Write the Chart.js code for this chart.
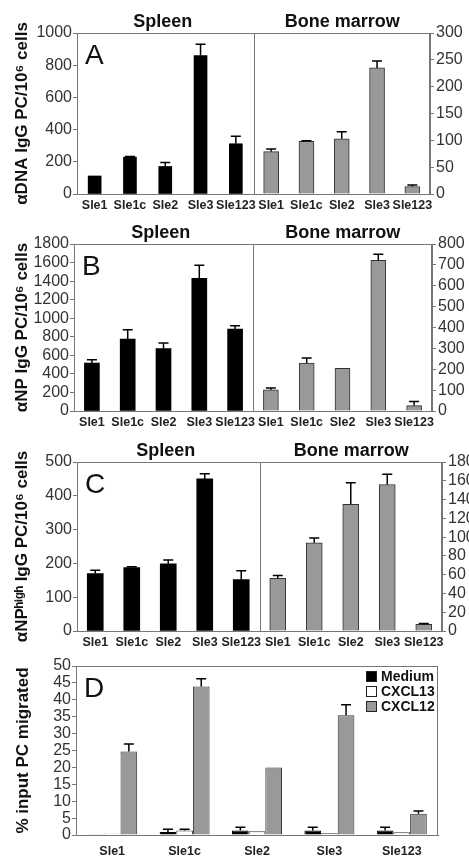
<!DOCTYPE html>
<html>
<head>
<meta charset="utf-8">
<script src="https://cdn.jsdelivr.net/npm/chart.js@4.4.1/dist/chart.umd.min.js"></script>
<style>
html, body { margin: 0; padding: 0; background: #fff; overflow: hidden; }
#wrap { position: relative; width: 469px; height: 857px; }
.panel { position: absolute; left: 0; width: 469px; }
</style>
</head>
<body>
<div id="wrap">
  <div class="panel" style="top:0;height:216px"><canvas id="panelA"></canvas></div>
  <div class="panel" style="top:216px;height:218px"><canvas id="panelB"></canvas></div>
  <div class="panel" style="top:434px;height:219px"><canvas id="panelC"></canvas></div>
  <div class="panel" style="top:653px;height:204px"><canvas id="panelD"></canvas></div>
</div>
<script>
// categorias
var linhagens = ['Sle1', 'Sle1c', 'Sle2', 'Sle3', 'Sle123'];
var vazio = [null, null, null, null, null];

// A - aDNA IgG PC / 10^6 cells
var dnaBaco = [112, 229, 171, 860, 312];
var dnaBacoErro = [0, 4, 25, 70, 46];
var dnaMedula = [79, 98, 103, 235, 14];
var dnaMedulaErro = [5, 1, 13, 13, 3];

// B - aNP IgG PC / 10^6 cells
var npBaco = [517, 776, 672, 1430, 884];
var npBacoErro = [36, 100, 60, 140, 36];
var npMedula = [102, 230, 204, 722, 26];
var npMedulaErro = [8, 24, 0, 29, 19];

// C - aNP high IgG PC / 10^6 cells
var npAltoBaco = [170, 188, 199, 450, 152];
var npAltoBacoErro = [10, 2, 11, 15, 26];
var npAltoMedula = [56, 94, 135, 156, 7];
var npAltoMedulaErro = [3, 5, 23, 11, 1];

// D - % input PC migrated
var meio = [0.1, 0.9, 1.3, 1.3, 1.3];
var meioErro = [0, 0.8, 1.0, 1.0, 1.0];
var cxcl13 = [0.4, 1.3, 1.1, 0.5, 0.8];
var cxcl13Erro = [0, 0.4, 0, 0, 0];
var cxcl12 = [24.7, 43.9, 20.0, 35.4, 6.3];
var cxcl12Erro = [2.2, 2.3, 0, 3.1, 0.8];

var CINZA = '#999999';
var EIXO = '#777777';
Chart.defaults.font.family = '"Liberation Sans", Arial, sans-serif';
Chart.defaults.color = '#333';

const barrasErro = {
    id: 'barrasErro',
    afterDatasetsDraw(chart) {
        const ctx = chart.ctx;
        chart.data.datasets.forEach((ds, i) => {
            if (!ds.erros) return;
            const meta = chart.getDatasetMeta(i);
            const escala = chart.scales[meta.yAxisID];
            meta.data.forEach((barra, j) => {
                const v = ds.data[j], e = ds.erros[j];
                if (v == null || !e) return;
                const yTopo = escala.getPixelForValue(v + e);
                ctx.save();
                ctx.strokeStyle = '#000';
                ctx.lineWidth = 1.5;
                ctx.beginPath();
                ctx.moveTo(barra.x, barra.y);
                ctx.lineTo(barra.x, yTopo);
                ctx.moveTo(barra.x - 5, yTopo);
                ctx.lineTo(barra.x + 5, yTopo);
                ctx.stroke();
                ctx.restore();
            });
        });
    }
};

const decoracao = {
    id: 'decoracao',
    afterDraw(chart, args, opts) {
        const ctx = chart.ctx;
        const a = chart.chartArea;
        ctx.save();
        ctx.strokeStyle = EIXO;
        ctx.lineWidth = 1;
        ctx.strokeRect(a.left + 0.5, a.top + 0.5, a.right - a.left - 1, a.bottom - a.top);

        if (opts.metades) {
            const x = chart.scales.x;
            const meio = Math.round((x.getPixelForValue(4) + x.getPixelForValue(5)) / 2) + 0.5;
            ctx.beginPath();
            ctx.moveTo(meio, a.top);
            ctx.lineTo(meio, a.bottom);
            ctx.stroke();
            ctx.fillStyle = '#111';
            ctx.font = 'bold 18px "Liberation Sans", Arial, sans-serif';
            ctx.textAlign = 'center';
            ctx.textBaseline = 'alphabetic';
            ctx.fillText(opts.metades[0], (a.left + meio) / 2 - 3, a.top - 6);
            ctx.fillText(opts.metades[1], (meio + a.right) / 2, a.top - 6);
        }

        ctx.fillStyle = '#111';
        ctx.font = '28px "Liberation Sans", Arial, sans-serif';
        ctx.textAlign = 'left';
        ctx.textBaseline = 'alphabetic';
        ctx.fillText(opts.letra, a.left + 8, a.top + 31);

        if (opts.legenda) {
            ctx.font = 'bold 14px "Liberation Sans", Arial, sans-serif';
            ctx.textBaseline = 'middle';
            chart.data.datasets.forEach((ds, i) => {
                const y = a.top + 11 + i * 15;
                const x = a.left + 290;
                ctx.fillStyle = ds.backgroundColor;
                ctx.fillRect(x, y - 6, 11, 11);
                ctx.strokeStyle = '#222';
                ctx.strokeRect(x + 0.5, y - 5.5, 10, 10);
                ctx.fillStyle = '#111';
                ctx.fillText(ds.label, x + 15, y);
            });
        }
        ctx.restore();
    }
};

function eixoY(pos, max, passo, largura, titulo, tituloPad, tamanho) {
    const eixo = {
        position: pos,
        min: 0,
        max: max,
        ticks: {
            stepSize: passo,
            autoSkip: false,
            color: '#333',
            font: { size: tamanho || 16 },
            padding: pos === 'left' ? 1 : 2,
            callback: function (valor) { return String(valor); }
        },
        grid: { drawOnChartArea: false, tickLength: 4, color: EIXO },
        border: { color: EIXO },
        afterFit: function (s) { s.width = largura; }
    };
    if (titulo) {
        eixo.title = {
            display: true,
            text: titulo,
            color: '#111',
            font: { size: 17, weight: 'bold' },
            padding: { top: tituloPad, bottom: 0 }
        };
    }
    return eixo;
}

function eixoX(altura, pad) {
    return {
        grid: { display: false, drawTicks: false },
        border: { color: EIXO },
        ticks: {
            autoSkip: false,
            maxRotation: 0,
            minRotation: 0,
            padding: pad,
            color: '#222',
            font: { size: 12.5, weight: 'bold' }
        },
        afterFit: function (s) { s.height = altura; }
    };
}

function plotarMetades(id, letra, titulo, baco, bacoErro, medula, medulaErro, eixos, geo) {
    new Chart(document.getElementById(id), {
        type: 'bar',
        data: {
            labels: linhagens.concat(linhagens),
            datasets: [
                {
                    label: 'Spleen',
                    data: baco.concat(vazio),
                    erros: bacoErro.concat(vazio),
                    yAxisID: 'y',
                    backgroundColor: '#000',
                    barThickness: geo.barraBaco,
                    grouped: false
                },
                {
                    label: 'Bone marrow',
                    data: vazio.concat(medula),
                    erros: vazio.concat(medulaErro),
                    yAxisID: 'y1',
                    backgroundColor: CINZA,
                    borderColor: '#333',
                    borderWidth: 1,
                    barThickness: geo.barraMedula,
                    grouped: false
                }
            ]
        },
        options: {
            responsive: true,
            maintainAspectRatio: false,
            animation: false,
            layout: { padding: { top: geo.topo, left: 0, right: 0, bottom: 0 } },
            plugins: {
                legend: { display: false },
                tooltip: { enabled: false },
                decoracao: { letra: letra, metades: ['Spleen', 'Bone marrow'] }
            },
            scales: {
                x: eixoX(geo.alturaX, 4),
                y: eixoY('left', eixos[0], eixos[1], geo.esquerda, titulo, 12),
                y1: eixoY('right', eixos[2], eixos[3], 469 - geo.direita, null, 0)
            }
        },
        plugins: [barrasErro, decoracao]
    });
}

function plotarMigracao() {
    new Chart(document.getElementById('panelD'), {
        type: 'bar',
        data: {
            labels: linhagens,
            datasets: [
                { label: 'Medium', data: meio, erros: meioErro, backgroundColor: '#000', borderColor: '#000', borderWidth: 1 },
                { label: 'CXCL13', data: cxcl13, erros: cxcl13Erro, backgroundColor: '#fff', borderColor: '#333', borderWidth: 1 },
                { label: 'CXCL12', data: cxcl12, erros: cxcl12Erro, backgroundColor: CINZA, borderColor: '#333', borderWidth: 1 }
            ]
        },
        options: {
            responsive: true,
            maintainAspectRatio: false,
            animation: false,
            datasets: { bar: { categoryPercentage: 0.69, barPercentage: 1.0 } },
            layout: { padding: { top: 13, left: 0, right: 31, bottom: 0 } },
            plugins: {
                legend: { display: false },
                tooltip: { enabled: false },
                decoracao: { letra: 'D', legenda: true }
            },
            scales: {
                x: eixoX(22, 9),
                y: eixoY('left', 50, 5, 76, '% input PC migrated', 13, 16)
            }
        },
        plugins: [barrasErro, decoracao]
    });
}

window.onload = function () {
    plotarMetades('panelA', 'A', 'αDNA IgG PC/10⁶ cells', dnaBaco, dnaBacoErro, dnaMedula, dnaMedulaErro,
        [1000, 200, 300, 50], { topo: 33, alturaX: 22, esquerda: 77, direita: 430, barraBaco: 13, barraMedula: 15 });
    plotarMetades('panelB', 'B', 'αNP IgG PC/10⁶ cells', npBaco, npBacoErro, npMedula, npMedulaErro,
        [1800, 200, 800, 100], { topo: 28, alturaX: 23, esquerda: 74, direita: 432, barraBaco: 15, barraMedula: 15 });
    plotarMetades('panelC', 'C', 'αNPʰⁱᵍʰ IgG PC/10⁶ cells', npAltoBaco, npAltoBacoErro, npAltoMedula, npAltoMedulaErro,
        [500, 100, 180, 20], { topo: 28, alturaX: 22, esquerda: 77, direita: 442, barraBaco: 16, barraMedula: 16 });
    plotarMigracao();
};
</script>
</body>
</html>
